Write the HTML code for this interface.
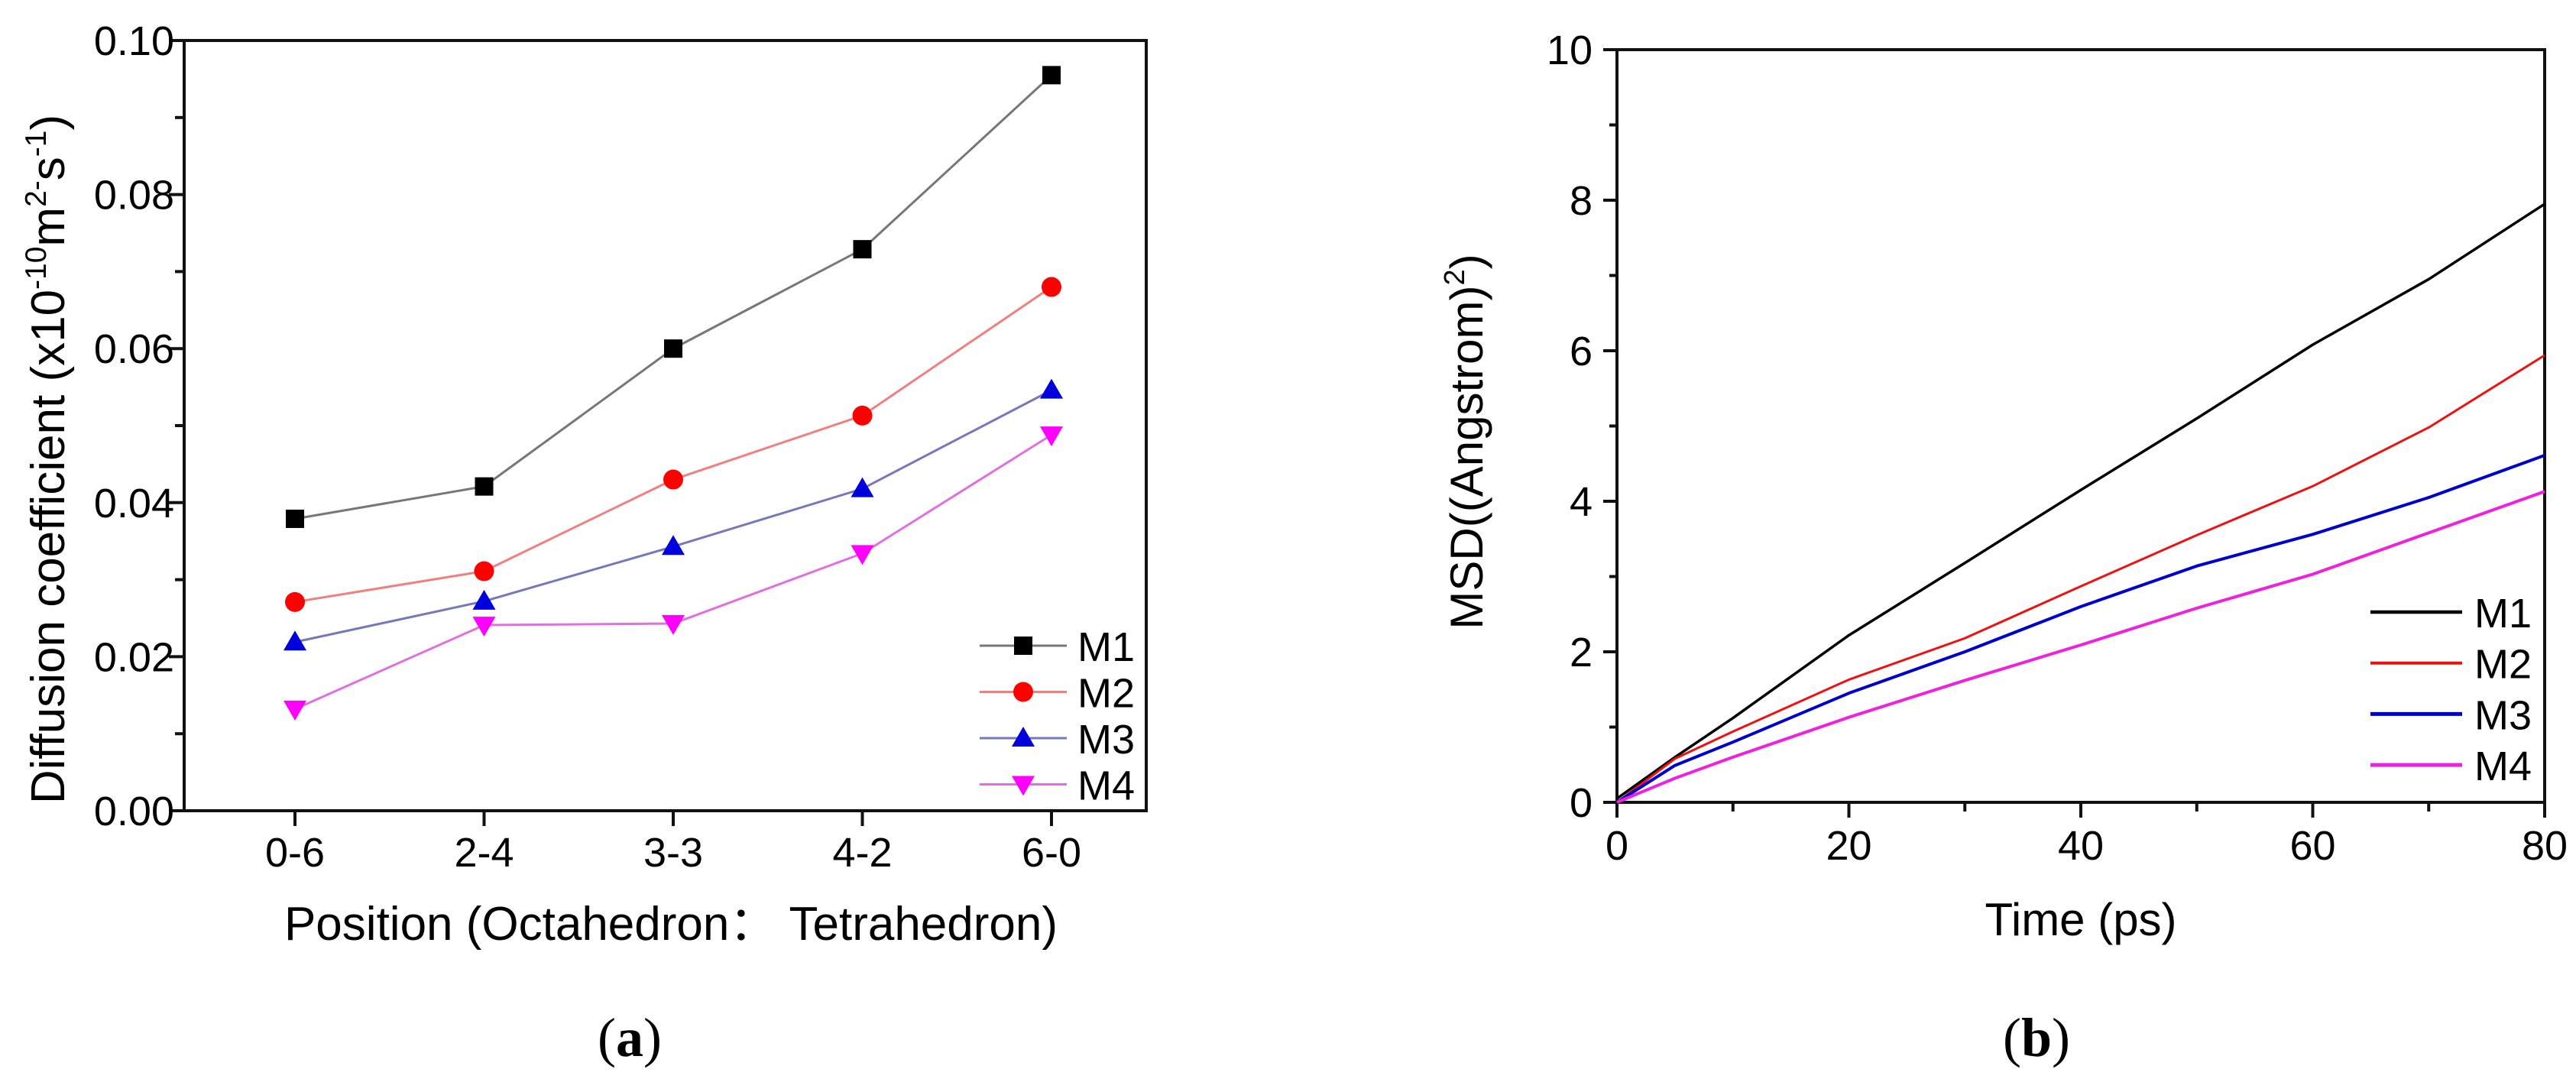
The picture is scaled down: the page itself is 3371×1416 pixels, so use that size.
<!DOCTYPE html>
<html><head><meta charset="utf-8"><style>
html,body{margin:0;padding:0;background:#fff;}
svg{display:block;font-family:"Liberation Sans",Arial,sans-serif;}
</style></head><body>
<svg id="fig" width="3371" height="1416" viewBox="0 0 3371 1416" xmlns="http://www.w3.org/2000/svg">
<g id="pa"></g>
<g id="pb"></g>
<text x="824" y="1382" font-family="Liberation Serif,serif" font-size="72" text-anchor="middle">(<tspan font-weight="bold">a</tspan>)</text>
<text x="2665" y="1382" font-family="Liberation Serif,serif" font-size="72" text-anchor="middle">(<tspan font-weight="bold">b</tspan>)</text>
</svg>
<script>
// Panel A data
const catsA = ["0-6","2-4","3-3","4-2","6-0"];
const m1A = [0.0379,0.0421,0.0600,0.0729,0.0955];
const m2A = [0.0271,0.0311,0.0430,0.0513,0.0680];
const m3A = [0.0219,0.0272,0.0343,0.0418,0.0546];
const m4A = [0.0132,0.0241,0.0243,0.0334,0.0488];
const yTicksA = ["0.00","0.02","0.04","0.06","0.08","0.10"];
// Panel B data
const timeB = [0,5,10,20,30,40,50,60,70,80];
const m1B = [0.05,0.60,1.12,2.22,3.18,4.15,5.10,6.08,6.95,7.95];
const m2B = [0.0,0.58,0.94,1.63,2.18,2.87,3.55,4.20,4.98,5.94];
const m3B = [0.0,0.49,0.80,1.45,2.00,2.60,3.14,3.56,4.05,4.61];
const m4B = [0.0,0.32,0.60,1.13,1.62,2.09,2.58,3.03,3.58,4.13];
const xTicksB = ["0","20","40","60","80"];
const yTicksB = ["0","2","4","6","8","10"];

const NS="http://www.w3.org/2000/svg";
function mk(parent,tag,attrs){const e=document.createElementNS(NS,tag);for(const k in attrs)e.setAttribute(k,attrs[k]);parent.appendChild(e);return e;}

// ---------- Panel A ----------
const pa=document.getElementById('pa');
const AL=241,AR=1500,AT=53,AB=1061;
const ax=i=>386+i*247.5;
const ay=v=>AB-(v/0.10)*(AB-AT);
let fr=mk(pa,'rect',{x:AL,y:AT,width:AR-AL,height:AB-AT,fill:'none',stroke:'#111','stroke-width':4});

for(let i=0;i<=10;i++){const y=ay(i*0.01);const l=mk(pa,'line',{x1:AL,x2:AL-(i%2==0?20:12),y1:y,y2:y,stroke:'#111','stroke-width':4});
}
yTicksA.forEach((t,i)=>{const e=mk(pa,'text',{x:228,y:ay(i*0.02)+19,'font-size':54,'text-anchor':'end'});e.textContent=t;
});
catsA.forEach((c,i)=>{const l=mk(pa,'line',{x1:ax(i),x2:ax(i),y1:AB,y2:AB+20,stroke:'#111','stroke-width':4});

const e=mk(pa,'text',{x:ax(i),y:1134,'font-size':54,'text-anchor':'middle'});e.textContent=c;
});
let xt=mk(pa,'text',{x:878,y:1230,'font-size':62,'text-anchor':'middle'});xt.textContent='Position (Octahedron\uFF1A Tetrahedron)';

let yt=mk(pa,'text',{x:0,y:0,'font-size':62,'text-anchor':'middle',transform:'translate(84,601) rotate(-90)'});
yt.innerHTML='Diffusion coefficient (x10<tspan font-size="39" dy="-24">-10</tspan><tspan dy="24">m</tspan><tspan font-size="39" dy="-24">2-</tspan><tspan dy="24">s</tspan><tspan font-size="39" dy="-24">-1</tspan><tspan dy="24">)</tspan>';


function marker(g,type,x,y,col){let e;
 if(type==='sq')e=mk(g,'rect',{x:x-12,y:y-12,width:24,height:24,fill:col});
 else if(type==='ci')e=mk(g,'circle',{cx:x,cy:y,r:13,fill:col});
 else if(type==='up')e=mk(g,'polygon',{points:`${x},${y-15} ${x-15},${y+11} ${x+15},${y+11}`,fill:col});
 else e=mk(g,'polygon',{points:`${x},${y+15} ${x-15},${y-11} ${x+15},${y-11}`,fill:col});
 return e;}
const seriesA=[[m1A,'#777','#000','sq','M1'],[m2A,'#f08080','#ff0000','ci','M2'],[m3A,'#7777bb','#0000dd','up','M3'],[m4A,'#e070e0','#ff00ff','dn','M4']];
seriesA.forEach((s,k)=>{const g=mk(pa,'g',{});
 const pl=mk(g,'polyline',{points:s[0].map((v,i)=>ax(i)+','+ay(v)).join(' '),fill:'none',stroke:s[1],'stroke-width':3});
 
 s[0].forEach((v,i)=>{const m=marker(g,s[3],ax(i),ay(v),s[2]);});
 const ly=845+k*60.5;
 const lg=mk(pa,'g',{});
 mk(lg,'line',{x1:1282,x2:1396,y1:ly,y2:ly,stroke:s[1],'stroke-width':3});
 marker(lg,s[3],1339,ly,s[2]);
 const t=mk(lg,'text',{x:1410,y:ly+20,'font-size':54});t.textContent=s[4];});

// ---------- Panel B ----------
const pb=document.getElementById('pb');
const BL=2116,BR=3330,BT=65,BB=1050;
const bx=v=>BL+v/80*(BR-BL);
const by=v=>BB-v/10*(BB-BT);
fr=mk(pb,'rect',{x:BL,y:BT,width:BR-BL,height:BB-BT,fill:'none',stroke:'#111','stroke-width':4});

for(let i=0;i<=10;i++){const y=by(i);const l=mk(pb,'line',{x1:BL,x2:BL-(i%2==0?18:10),y1:y,y2:y,stroke:'#111','stroke-width':4});
}
for(let i=0;i<=8;i++){const x=bx(i*10);const l=mk(pb,'line',{x1:x,x2:x,y1:BB,y2:BB+(i%2==0?20:12),stroke:'#111','stroke-width':4});
}
yTicksB.forEach((t,i)=>{const e=mk(pb,'text',{x:2084,y:by(i*2)+19,'font-size':54,'text-anchor':'end'});e.textContent=t;
});
xTicksB.forEach((t,i)=>{const e=mk(pb,'text',{x:bx(i*20),y:1125,'font-size':54,'text-anchor':'middle'});e.textContent=t;
});
xt=mk(pb,'text',{x:2723,y:1224,'font-size':60,'text-anchor':'middle'});xt.textContent='Time (ps)';

yt=mk(pb,'text',{x:0,y:0,'font-size':60,'text-anchor':'middle',transform:'translate(1940,578) rotate(-90)'});
yt.innerHTML='MSD((Angstrom)<tspan font-size="38" dy="-24">2</tspan><tspan dy="24">)</tspan>';

const seriesB=[[m1B,'#000',3.5,'M1'],[m2B,'#ee1111',3,'M2'],[m3B,'#0000cc',4,'M3'],[m4B,'#ee22dd',4,'M4']];
seriesB.forEach((s,k)=>{
 const pl=mk(pb,'polyline',{points:timeB.map((t,i)=>bx(t)+','+by(s[0][i])).join(' '),fill:'none',stroke:s[1],'stroke-width':s[2],'stroke-linejoin':'round'});
 
 const ly=801+k*66.7;
 const lg=mk(pb,'g',{});
 mk(lg,'line',{x1:3102,x2:3222,y1:ly,y2:ly,stroke:s[1],'stroke-width':s[2]+1});
 const t=mk(lg,'text',{x:3238,y:ly+20,'font-size':54});t.textContent=s[3];});
</script>
</body></html>
